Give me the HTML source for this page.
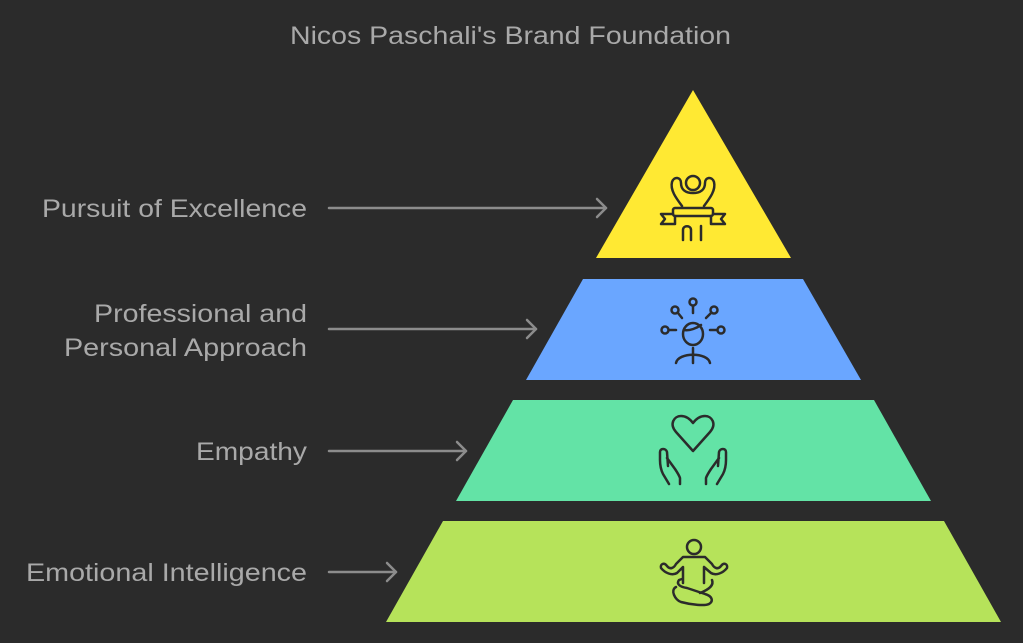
<!DOCTYPE html>
<html><head><meta charset="utf-8"><style>
html,body{margin:0;padding:0;background:#2b2b2b;}
svg{display:block}
text{font-family:"Liberation Sans",sans-serif;fill:#a9a9a9;font-size:25px}
</style></head><body>
<svg width="1023" height="643" viewBox="0 0 1023 643" xmlns="http://www.w3.org/2000/svg">
<rect width="1023" height="643" fill="#2b2b2b"/>
<text x="290" y="44" textLength="441" lengthAdjust="spacingAndGlyphs">Nicos Paschali's Brand Foundation</text>

<polygon points="693,90 791,258 596,258" fill="#ffe933"/>
<polygon points="583,279 803,279 861,380 526,380" fill="#6aa6ff"/>
<polygon points="513,400 874,400 931,501 456,501" fill="#63e3a6"/>
<polygon points="443,521 944,521 1001,622 386,622" fill="#b6e35a"/>

<g stroke="#8c8c8c" stroke-width="2.5" fill="none" stroke-linecap="round" stroke-linejoin="round">
<line x1="329" y1="208" x2="606" y2="208"/><polyline points="597,199 606,208 597,217"/>
<line x1="329" y1="329" x2="536" y2="329"/><polyline points="527,320 536,329 527,338"/>
<line x1="329" y1="451" x2="466" y2="451"/><polyline points="457,442 466,451 457,460"/>
<line x1="329" y1="572" x2="396" y2="572"/><polyline points="387,563 396,572 387,581"/>
</g>

<text x="307" y="217" text-anchor="end" textLength="265" lengthAdjust="spacingAndGlyphs">Pursuit of Excellence</text>
<text x="307" y="322" text-anchor="end" textLength="213" lengthAdjust="spacingAndGlyphs">Professional and</text>
<text x="307" y="356" text-anchor="end" textLength="243" lengthAdjust="spacingAndGlyphs">Personal Approach</text>
<text x="307" y="460" text-anchor="end" textLength="111" lengthAdjust="spacingAndGlyphs">Empathy</text>
<text x="307" y="581" text-anchor="end" textLength="281" lengthAdjust="spacingAndGlyphs">Emotional Intelligence</text>

<g stroke="#2b2b2b" stroke-width="2.5" fill="none" stroke-linecap="round" stroke-linejoin="round">
<!-- excellence icon -->
<circle cx="693" cy="183" r="7"/>
<path d="M682,206 C676,198 670,190 672,182 C674,176 681,177 681,183 C681,190 686,193 693,193 C700,193 705,190 705,183 C705,177 712,176 714,182 C716,190 710,198 704,206"/>
<rect x="673" y="208" width="40" height="8" rx="2"/>
<path d="M673,214 L661,214 L665,219 L661,224 L675,224 L675,216"/>
<path d="M713,214 L725,214 L721,219 L725,224 L711,224 L711,216"/>
<path d="M683,240 L683,230 C683,225 691,225 691,230 L691,240"/>
<line x1="701" y1="226" x2="701" y2="240"/>
<!-- network person -->
<ellipse cx="693" cy="334" rx="10" ry="11"/>
<path d="M684,330 C690,331 697,328 701,325"/>
<line x1="693" y1="348" x2="693" y2="363"/>
<path d="M676,363 C678,352 708,352 710,363"/>
<circle cx="693" cy="302" r="3.5"/><line x1="693" y1="306" x2="693" y2="313"/>
<circle cx="675" cy="310" r="3.5"/><line x1="678" y1="313" x2="682" y2="318"/>
<circle cx="714" cy="310" r="3.5"/><line x1="711" y1="313" x2="706" y2="318"/>
<circle cx="665" cy="330" r="3.5"/><line x1="669" y1="330" x2="676" y2="330"/>
<circle cx="721" cy="330" r="3.5"/><line x1="717" y1="330" x2="710" y2="330"/>
<!-- heart hands -->
<path d="M693,451 L676,432 C669,424 674,416 681,416 C686,416 690,419 693,423 C696,419 700,416 705,416 C712,416 717,424 710,432 Z"/>
<path d="M669,484 L663,474 C661,470 660,466 660,460 L660,452 C660,448 666,448 667,452 L668,466 M667,458 L675,469 C677,472 679,475 680,478 L680,484"/>
<path d="M717,484 L723,474 C725,470 726,466 726,460 L726,452 C726,448 720,448 719,452 L718,466 M719,458 L711,469 C709,472 707,475 706,478 L706,484"/>
<!-- meditation -->
<circle cx="694" cy="547" r="7"/>
<path d="M683,583 L683,567 L677,573 C672,576 665,573 661,568 C660,564 664,562 667,566 C670,570 674,568 676,564 L683,557 L705,557 L712,564 C714,568 718,570 721,566 C724,562 728,564 727,568 C723,573 716,576 711,573 L704,567 L704,583"/>
<path d="M676,587 C670,590 675,600 681,602 C692,605 705,606 709,604 C714,601 712,596 705,594 L687,588 C680,587 676,584 679,580 L682,579"/>
<path d="M712,580 C714,585 710,589 700,593"/>
</g>
</svg>
</body></html>
